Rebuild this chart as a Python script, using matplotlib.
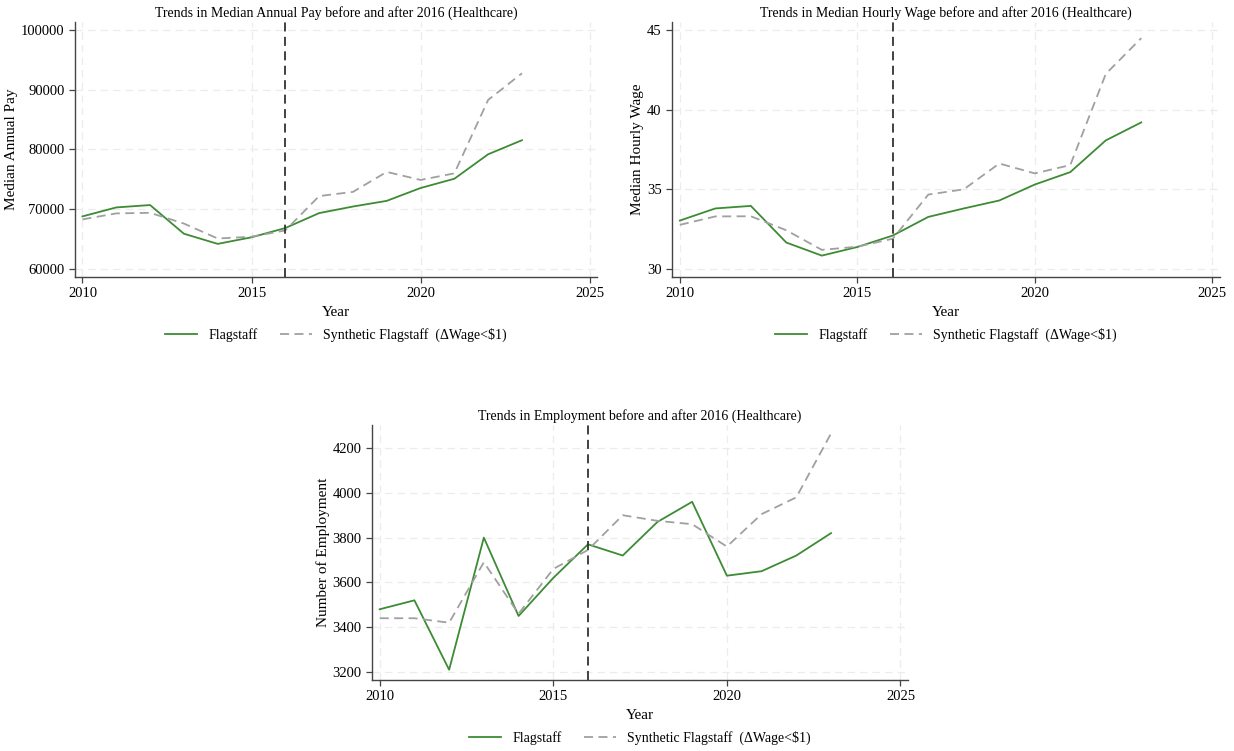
import numpy as np
import matplotlib
matplotlib.use("Agg")
import matplotlib.pyplot as plt

plt.rcParams['font.family'] = ['Liberation Serif', 'DejaVu Serif']

years = list(range(2010, 2024))

pay_flag = [68800, 70300, 70700, 65900, 64200, 65300, 66850, 69350, 70450, 71400,
            73550, 75100, 79200, 81550]
pay_synth = [68300, 69300, 69400, 67600, 65100, 65400, 66450, 72200, 72900, 76250,
             74900, 76000, 88300, 92750]

wage_flag = [33.04, 33.8, 33.96, 31.66, 30.84, 31.38, 32.1, 33.27, 33.8, 34.3,
             35.3, 36.08, 38.07, 39.2]
wage_synth = [32.77, 33.3, 33.31, 32.43, 31.2, 31.4, 31.9, 34.67, 35.0, 36.62,
              36.0, 36.52, 42.24, 44.49]

emp_flag = [3480, 3520, 3210, 3800, 3450, 3620, 3770, 3720, 3870, 3960,
            3630, 3650, 3720, 3820]
emp_synth = [3440, 3440, 3420, 3690, 3460, 3660, 3745, 3900, 3875, 3860,
             3760, 3905, 3980, 4265]

xticks = [2010, 2015, 2020, 2025]
green = '#3d8b34'
gray = '#a0a0a0'

fig = plt.figure(figsize=(12.34, 7.51), dpi=100)

panels = [
    ([0.0608, 0.6312, 0.4230, 0.3395], pay_flag, pay_synth,
     'Trends in Median Annual Pay before and after 2016 (Healthcare)', 'Median Annual Pay',
     [60000, 70000, 80000, 90000, 100000], (58660, 101340)),
    ([0.5446, 0.6312, 0.4441, 0.3395], wage_flag, wage_synth,
     'Trends in Median Hourly Wage before and after 2016 (Healthcare)', 'Median Hourly Wage',
     [30, 35, 40, 45], (29.5, 45.5)),
    ([0.3015, 0.0945, 0.4344, 0.3396], emp_flag, emp_synth,
     'Trends in Employment before and after 2016 (Healthcare)', 'Number of Employment',
     [3200, 3400, 3600, 3800, 4000, 4200], (3164, 4303)),
]

for rect, flag, synth, title, ylabel, yticks, ylim in panels:
    ax = fig.add_axes(rect)
    ax.plot(years, flag, color=green, lw=1.3, label='Flagstaff')
    ax.plot(years, synth, color=gray, lw=1.3, ls=(0, (5, 3)),
            label='Synthetic Flagstaff  (\u0394Wage<$1)')
    ax.axvline(2016, color='#333333', lw=1.3, ls=(0, (5, 3)))
    ax.set_xlim(2009.78, 2025.22)
    ax.set_ylim(*ylim)
    ax.set_xticks(xticks)
    ax.set_yticks(yticks)
    ax.grid(True, color='#ececec', ls=(0, (6, 4)), lw=0.9)
    ax.set_axisbelow(True)
    for s in ['top', 'right']:
        ax.spines[s].set_visible(False)
    for s in ['left', 'bottom']:
        ax.spines[s].set_color('#444444')
        ax.spines[s].set_linewidth(1.0)
    ax.tick_params(labelsize=10.5, color='#444444', length=4, width=0.9)
    ax.set_title(title, fontsize=10, pad=4)
    ax.set_xlabel('Year', fontsize=11, labelpad=4)
    ax.set_ylabel(ylabel, fontsize=11, labelpad=2)
    ax.legend(loc='center', bbox_to_anchor=(0.5, -0.226), ncol=2, frameon=False,
              fontsize=10, handlelength=2.3, handletextpad=0.8, columnspacing=1.6)

fig.savefig('out.png', dpi=100)
